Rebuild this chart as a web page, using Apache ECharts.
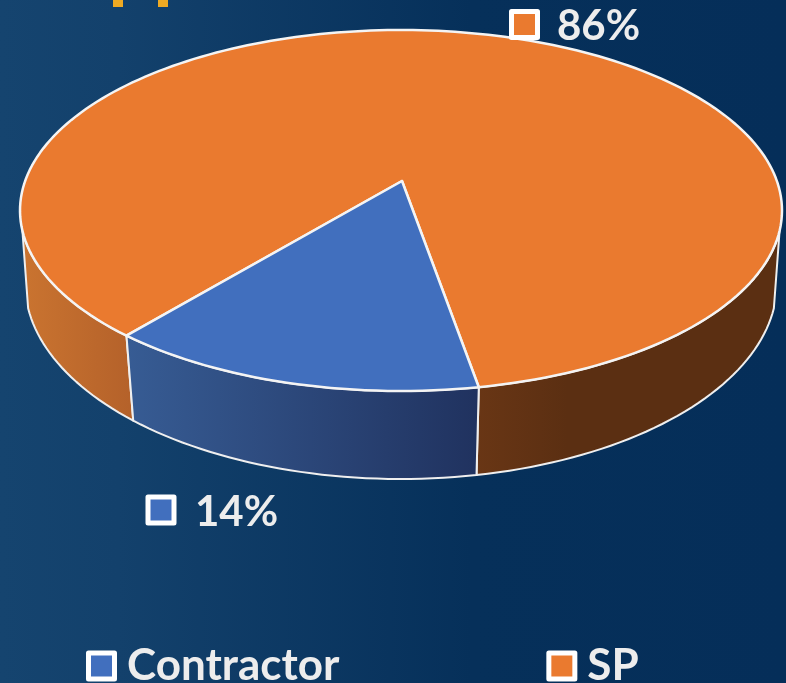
<!DOCTYPE html>
<html>
<head>
<meta charset="utf-8">
<title>Contractor vs SP</title>
<style>
html, body { margin: 0; padding: 0; }
#main { width: 786px; height: 683px; overflow: hidden; }
</style>
<script src="https://cdn.jsdelivr.net/npm/echarts@6/dist/echarts.min.js"></script>
</head>
<body>
<div id="main"></div>
<script>
var sliceNames = ['Contractor', 'SP'];
var sliceValues = [13.8, 86.2];
var sliceColors = ['#416FBE', '#EA7A2F'];
var firstSliceAngle = 170;

// perspective ellipses of the disc, top face and bottom face
var topFace = { cx: 401, cy: 210.5, rx: 381, ry: 180.5, tilt: -0.1634 };
var bottomFace = { cx: 401, cy: 283, rx: 376, ry: 196, tilt: -0.147 };
// walls are only seen between these angles (clockwise from the back)
var wallFrom = 105.7, wallTo = 254.3;

var labelSpots = [
	{ box: [145.5, 494.5], text: [195, 512.5] },
	{ box: [509, 9], text: [557, 26] }
];

function project(face, deg) {
	var a = deg * Math.PI / 180;
	var x = Math.sin(a), y = -Math.cos(a);
	var w = 1 + face.tilt * y;
	return [
		face.cx + face.rx * Math.sqrt(1 - face.tilt * face.tilt) * x / w,
		face.cy + face.ry * (y + face.tilt) / w
	];
}

function arcPoints(face, from, to) {
	var pts = [];
	var n = Math.max(2, Math.ceil(Math.abs(to - from) / 1.5));
	for (var i = 0; i <= n; i++) {
		pts.push(project(face, from + (to - from) * i / n));
	}
	return pts;
}

function hGrad(stops) {
	return new echarts.graphic.LinearGradient(0, 0, 1, 0, stops);
}

function wall(from, to, fill) {
	var pts = arcPoints(topFace, from, to).concat(arcPoints(bottomFace, to, from));
	return {
		type: 'polygon',
		shape: { points: pts },
		style: { fill: fill, stroke: '#EFEFEF', lineWidth: 2, lineJoin: 'round' }
	};
}

function sliceRange(idx) {
	var total = 0, before = 0;
	for (var i = 0; i < sliceValues.length; i++) {
		total += sliceValues[i];
		if (i < idx) before += sliceValues[i];
	}
	return {
		from: firstSliceAngle + before / total * 360,
		to: firstSliceAngle + (before + sliceValues[idx]) / total * 360,
		pct: Math.round(sliceValues[idx] / total * 100) + '%'
	};
}

function renderSlice(idx) {
	return function() {
		var r = sliceRange(idx);
		var kids = [];
		if (idx === 0) {
			kids.push(wall(r.from, r.to, hGrad([
				{ offset: 0, color: '#375C94' },
				{ offset: 1, color: '#20325F' }
			])));
		} else {
			kids.push(wall(r.from, wallTo, hGrad([
				{ offset: 0, color: '#CA7430' },
				{ offset: 1, color: '#B4612A' }
			])));
			kids.push(wall(wallFrom, firstSliceAngle, hGrad([
				{ offset: 0, color: '#693615' },
				{ offset: 0.3, color: '#5B2F12' },
				{ offset: 1, color: '#5B2F12' }
			])));
		}
		kids.push({
			type: 'polygon',
			shape: { points: [[topFace.cx + 1, topFace.cy - 29.5]].concat(arcPoints(topFace, r.from, r.to)) },
			style: { fill: sliceColors[idx], stroke: '#F4F4F4', lineWidth: 2.5, lineJoin: 'round' }
		});
		var spot = labelSpots[idx];
		kids.push({
			type: 'rect',
			shape: { x: spot.box[0] + 2.5, y: spot.box[1] + 2.5, width: 26, height: 26 },
			style: { fill: sliceColors[idx], stroke: '#FFFFFF', lineWidth: 5, lineJoin: 'round' }
		});
		kids.push({
			type: 'text',
			style: {
				x: spot.text[0], y: spot.text[1], text: r.pct,
				fill: '#EDEDED', font: 'bold 42px Lato, "Noto Sans", sans-serif',
				textAlign: 'left', textVerticalAlign: 'middle'
			}
		});
		return { type: 'group', children: kids };
	};
}

var chart = echarts.init(document.getElementById('main'));
chart.setOption({
	animation: false,
	backgroundColor: new echarts.graphic.LinearGradient(0, 0, 1, 0, [
		{ offset: 0, color: '#15446F' },
		{ offset: 0.15, color: '#13416C' },
		{ offset: 0.6, color: '#06305A' },
		{ offset: 1, color: '#052E59' }
	]),
	legend: {
		data: sliceNames,
		left: 81,
		top: 639,
		itemWidth: 26,
		itemHeight: 26,
		itemGap: 207,
		icon: 'rect',
		selectedMode: false,
		itemStyle: { borderColor: '#FFFFFF', borderWidth: 5, borderJoin: 'round' },
		textStyle: { color: '#EDEDED', fontFamily: 'Lato', fontWeight: 'bold', fontSize: 44, padding: [0, 0, 0, 7.5] }
	},
	graphic: [
		{ type: 'rect', shape: { x: 113, y: 0, width: 10, height: 7 }, style: { fill: '#EFAA23' } },
		{ type: 'rect', shape: { x: 158, y: 0, width: 10, height: 7 }, style: { fill: '#EFAA23' } }
	],
	series: [
		{
			name: sliceNames[1], type: 'custom', coordinateSystem: 'none', silent: true,
			itemStyle: { color: sliceColors[1] }, data: [sliceValues[1]], renderItem: renderSlice(1)
		},
		{
			name: sliceNames[0], type: 'custom', coordinateSystem: 'none', silent: true,
			itemStyle: { color: sliceColors[0] }, data: [sliceValues[0]], renderItem: renderSlice(0)
		}
	]
});
</script>
</body>
</html>
